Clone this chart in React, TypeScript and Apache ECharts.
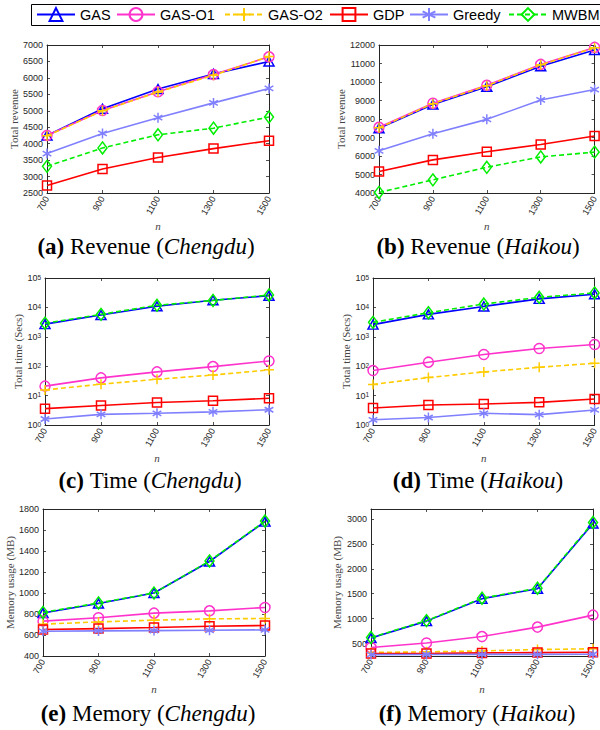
import React, { useEffect, useRef } from 'react';
import * as echarts from 'echarts';

// ---------- data ----------
const nValues = ['700', '900', '1100', '1300', '1500'];
const algorithms = ['GAS', 'GAS-O1', 'GAS-O2', 'GDP', 'Greedy', 'MWBM'];

// Revenue (Chengdu) — order follows `algorithms`
const revenueChengdu = [
  [4250, 5060, 5660, 6120, 6500],
  [4250, 5010, 5580, 6100, 6640],
  [4240, 5000, 5570, 6080, 6650],
  [2730, 3230, 3580, 3850, 4090],
  [3700, 4310, 4790, 5240, 5680],
  [3310, 3870, 4270, 4470, 4810],
];
// Revenue (Haikou)
const revenueHaikou = [
  [7500, 8780, 9740, 10850, 11730],
  [7550, 8850, 9820, 10950, 11870],
  [7530, 8830, 9800, 10930, 11850],
  [5160, 5790, 6230, 6620, 7080],
  [6280, 7200, 7980, 9030, 9590],
  [4030, 4710, 5390, 5950, 6210],
];
// Time (Chengdu), seconds
const timeChengdu = [
  [2700, 5500, 10900, 17500, 25000],
  [21, 40, 64, 97, 150],
  [15.6, 24.4, 36, 50, 75],
  [3.6, 4.6, 5.8, 6.7, 8.1],
  [1.6, 2.3, 2.5, 2.8, 3.3],
  [2900, 5800, 11800, 17200, 26500],
];
// Time (Haikou), seconds
const timeHaikou = [
  [2600, 5800, 10800, 19500, 28000],
  [71, 137, 250, 400, 545],
  [24, 41, 64, 92, 126],
  [3.8, 4.8, 5.2, 5.9, 7.7],
  [1.5, 1.8, 2.5, 2.25, 3.25],
  [3100, 6600, 13000, 22000, 31000],
];
// Memory (Chengdu), MB
const memoryChengdu = [
  [810, 900, 1000, 1300, 1680],
  [732, 764, 808, 830, 862],
  [703, 725, 741, 754, 757],
  [652, 661, 671, 684, 690],
  [636, 639, 642, 645, 649],
  [815, 905, 1000, 1305, 1685],
];
// Memory (Haikou), MB
const memoryHaikou = [
  [610, 950, 1400, 1600, 2910],
  [420, 510, 640, 830, 1070],
  [320, 333, 352, 380, 395],
  [298, 300, 312, 318, 326],
  [278, 280, 282, 283, 285],
  [620, 960, 1410, 1610, 2930],
];

const memoryHaikouTicks = [500, 1000, 1500, 2000, 2500, 3000];
const logTicksLabel = (v: number) => `{b|10}{e|${Math.round(Math.log10(v))}}`;

// ---------- styles ----------
const colors = ['#0000FF', '#FF33CC', '#FFCC00', '#FF0000', '#8080FF', '#00EE00'];
const dashed = [false, false, true, false, false, true];
const PLUS = 'path://M0,-10L0,10M-10,0L10,0';
const STAR = 'path://M0,-10L0,10M-8.66,-5L8.66,5M-8.66,5L8.66,-5';
const symbols = ['triangle', 'circle', PLUS, 'rect', STAR, 'diamond'];
const symbolSizes: any[] = [[10, 9], 10, 10, 9, 10, [9, 12]];
const legendLefts = [36, 116, 224, 329, 409, 508];

const AXIS_COLOR = '#262626';
const SERIF = 'Liberation Serif';
const SANS = 'Liberation Sans';

interface Panel {
  grid: { left: number; top: number; width: number; height: number };
  data: number[][];
  yName: string;
  nameGap: number;
  y: any;
  caption: string;
  captionX: number;
  captionY: number;
}

const panels: Panel[] = [
  {
    grid: { left: 47, top: 45, width: 222, height: 148 },
    data: revenueChengdu, yName: 'Total revenue', nameGap: 28,
    y: { type: 'value', min: 2500, max: 7000, interval: 500 },
    caption: '{b|(a)} {r|Revenue (}{i|Chengdu}{r|)}', captionX: 146, captionY: 246,
  },
  {
    grid: { left: 379, top: 45, width: 217, height: 148 },
    data: revenueHaikou, yName: 'Total revenue', nameGap: 31,
    y: { type: 'value', min: 4000, max: 12000, interval: 1000 },
    caption: '{b|(b)} {r|Revenue (}{i|Haikou}{r|)}', captionX: 478, captionY: 246,
  },
  {
    grid: { left: 45, top: 278, width: 224, height: 147 },
    data: timeChengdu, yName: 'Total time (Secs)', nameGap: 22,
    y: { log: true },
    caption: '{b|(c)} {r|Time (}{i|Chengdu}{r|)}', captionX: 150, captionY: 480,
  },
  {
    grid: { left: 373, top: 278, width: 223, height: 147 },
    data: timeHaikou, yName: 'Total time (Secs)', nameGap: 22,
    y: { log: true },
    caption: '{b|(d)} {r|Time (}{i|Haikou}{r|)}', captionX: 478, captionY: 480,
  },
  {
    grid: { left: 43, top: 509, width: 222, height: 147 },
    data: memoryChengdu, yName: 'Memory usage (MB)', nameGap: 27,
    y: { type: 'value', min: 400, max: 1800, interval: 200 },
    caption: '{b|(e)} {r|Memory (}{i|Chengdu}{r|)}', captionX: 148, captionY: 713,
  },
  {
    grid: { left: 371, top: 509, width: 222, height: 147 },
    data: memoryHaikou, yName: 'Memory usage (MB)', nameGap: 29,
    y: { type: 'value', min: 250, max: 3200, custom: memoryHaikouTicks },
    caption: '{b|(f)} {r|Memory (}{i|Haikou}{r|)}', captionX: 477, captionY: 713,
  },
];

function buildOption() {
  const grid: any[] = [];
  const xAxis: any[] = [];
  const yAxis: any[] = [];
  const series: any[] = [];
  const graphic: any[] = [];

  const tick = { show: true, inside: true, length: 3, lineStyle: { color: AXIS_COLOR, width: 0.8 } };
  const line = { show: true, lineStyle: { color: AXIS_COLOR, width: 1 } };

  panels.forEach((p, i) => {
    grid.push({ ...p.grid, containLabel: false });
    xAxis.push({
      type: 'category', gridIndex: i, data: nValues, boundaryGap: false, position: 'bottom',
      axisLine: line, axisTick: { ...tick, alignWithLabel: true },
      axisLabel: { interval: 0, rotate: 60, fontSize: 9, color: AXIS_COLOR, fontFamily: SANS, margin: 4 },
      name: 'n', nameLocation: 'middle', nameGap: 25,
      nameTextStyle: { fontFamily: SERIF, fontStyle: 'italic', fontSize: 11, color: '#444' },
      splitLine: { show: false },
    });
    xAxis.push({
      type: 'category', gridIndex: i, data: nValues, boundaryGap: false, position: 'top',
      axisLine: line, axisTick: tick, axisLabel: { show: false }, splitLine: { show: false },
    });

    const yBase: any = p.y.log
      ? { type: 'log', logBase: 10, min: 1, max: 100000, splitNumber: 5 }
      : { type: 'value', min: p.y.min, max: p.y.max, ...(p.y.interval ? { interval: p.y.interval } : {}) };

    const yLabel: any = {
      fontSize: 9, color: AXIS_COLOR, fontFamily: SANS, margin: 4,
      formatter: (v: number) => String(v),
    };
    const yTick: any = { ...tick };
    if (p.y.log) {
      yLabel.formatter = logTicksLabel;
      yLabel.rich = {
        b: { fontSize: 9, fontFamily: SANS, color: AXIS_COLOR, lineHeight: 9, padding: [5, 0, 0, 0], verticalAlign: 'bottom' },
        e: { fontSize: 6.5, fontFamily: SANS, color: AXIS_COLOR, lineHeight: 7, verticalAlign: 'top' },
      };
    }
    if (p.y.custom) {
      yLabel.customValues = p.y.custom;
      yTick.customValues = p.y.custom;
    }
    yAxis.push({
      ...yBase, gridIndex: i, position: 'left',
      axisLine: line, axisTick: yTick, axisLabel: yLabel, splitLine: { show: false },
      name: p.yName, nameLocation: 'middle', nameGap: p.nameGap, nameRotate: 90,
      nameTextStyle: { fontFamily: SERIF, fontSize: 11, color: '#444' },
    });
    yAxis.push({
      ...yBase, gridIndex: i, position: 'right',
      axisLine: line, axisTick: p.y.custom ? { ...tick, customValues: p.y.custom } : tick,
      axisLabel: { show: false }, splitLine: { show: false },
    });

    algorithms.forEach((name, k) => {
      series.push({
        type: 'line', name, xAxisIndex: 2 * i, yAxisIndex: 2 * i,
        data: p.data[k],
        symbol: symbols[k], symbolSize: symbolSizes[k], symbolKeepAspect: true,
        lineStyle: { color: colors[k], width: 1.6, type: dashed[k] ? [5, 3] : 'solid' },
        itemStyle: { color: 'rgba(0,0,0,0)', borderColor: colors[k], borderWidth: 1.5 },
        emphasis: { disabled: true },
        z: 2 + k,
      });
    });

    graphic.push({
      type: 'text', x: p.captionX, y: p.captionY, silent: true,
      style: {
        text: p.caption, align: 'center', verticalAlign: 'middle',
        fontFamily: SERIF, fontSize: 23, fill: '#000',
        rich: {
          b: { fontFamily: SERIF, fontSize: 23, fontWeight: 'bold', fill: '#000' },
          r: { fontFamily: SERIF, fontSize: 23, fill: '#000' },
          i: { fontFamily: SERIF, fontSize: 23, fontStyle: 'italic', fill: '#000' },
        },
      },
    });
  });

  graphic.push({
    type: 'rect', silent: true,
    shape: { x: 31.5, y: 4.5, width: 600, height: 21 },
    style: { fill: 'none', stroke: '#000', lineWidth: 1 },
    z: -1,
  });

  const legend = algorithms.map((name, k) => ({
    data: [name], left: legendLefts[k], top: 7, padding: 0,
    itemWidth: 38, itemHeight: 16, selectedMode: false,
    textStyle: { fontFamily: SANS, fontSize: 14.5, color: '#000' },
  }));

  return { animation: false, backgroundColor: '#fff', grid, xAxis, yAxis, series, legend, graphic };
}

export default function App() {
  const ref = useRef<HTMLDivElement>(null);
  useEffect(() => {
    if (!ref.current) return;
    const chart = echarts.init(ref.current, undefined, { renderer: 'svg' });
    chart.setOption(buildOption() as any);
    return () => chart.dispose();
  }, []);
  return (
    <div
      ref={ref}
      style={{ position: 'absolute', left: 0, top: 0, width: 600, height: 730, background: '#fff' }}
    />
  );
}
